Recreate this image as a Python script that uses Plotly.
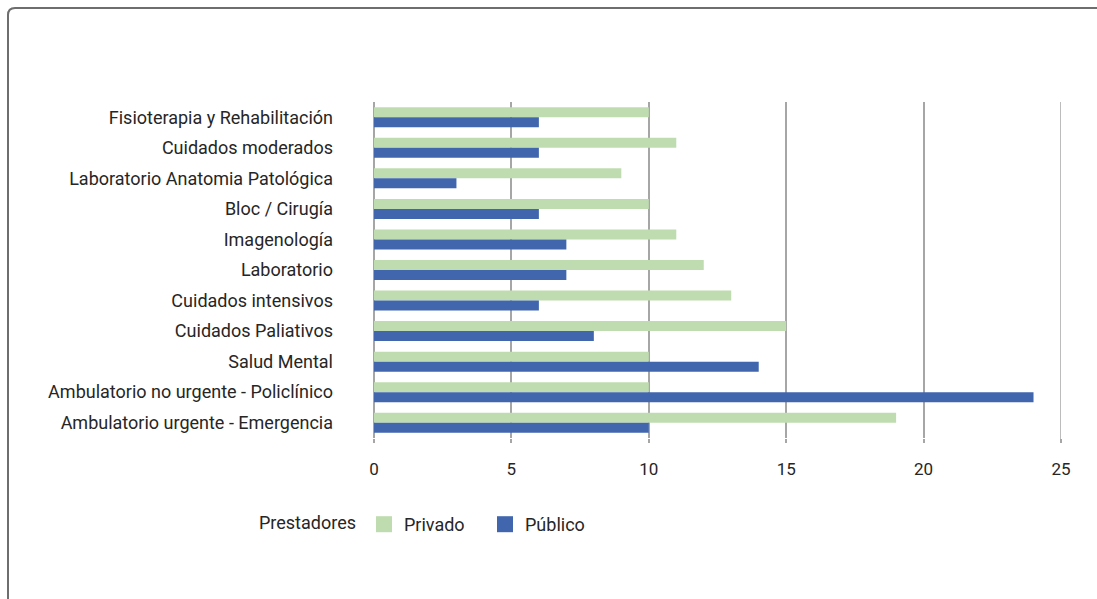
import plotly.graph_objects as go

categories = [
    "Fisioterapia y Rehabilitación",
    "Cuidados moderados",
    "Laboratorio Anatomia Patológica",
    "Bloc / Cirugía",
    "Imagenología",
    "Laboratorio",
    "Cuidados intensivos",
    "Cuidados Paliativos",
    "Salud Mental",
    "Ambulatorio no urgente - Policlínico",
    "Ambulatorio urgente - Emergencia",
]
privado = [10, 11, 9, 10, 11, 12, 13, 15, 10, 10, 19]
publico = [6, 6, 3, 6, 7, 7, 6, 8, 14, 24, 10]
x_ticks = [0, 5, 10, 15, 20, 25]

GREEN = "#bfdcb0"
BLUE = "#4166ae"
FONT = "Roboto"
TXT = "#262626"
GRID = "#a6a6a6"

W, H = 1097, 599
ML, MR, MT, MB = 374, 36, 102, 161
PW, PH = W - ML - MR, H - MT - MB


def px_x(p):
    return (p - ML) / PW


def px_y(p):
    return 1 - (p - MT) / PH


fig = go.Figure()
fig.add_trace(go.Bar(y=categories, x=privado, orientation="h", name="Privado",
                     marker=dict(color=GREEN, line=dict(width=0)), showlegend=False))
fig.add_trace(go.Bar(y=categories, x=publico, orientation="h", name="Público",
                     marker=dict(color=BLUE, line=dict(width=0)), showlegend=False))
# legend entries with larger swatches
fig.add_trace(go.Scatter(x=[None], y=[None], mode="markers", name="Privado",
                         marker=dict(symbol="square", size=16, color=GREEN, line=dict(width=0))))
fig.add_trace(go.Scatter(x=[None], y=[None], mode="markers", name="Público",
                         marker=dict(symbol="square", size=16, color=BLUE, line=dict(width=0))))

# gridline at the right edge of the axis (plotly drops the edge gridline)
fig.add_shape(type="line", xref="x", yref="paper", x0=x_ticks[-1], x1=x_ticks[-1],
              y0=-4 / PH, y1=1, line=dict(color=GRID, width=1.5), layer="below")

# rounded outer border
r = 7
x0, y0 = 8, 8
x1, y1 = W + 20, H + 20
path = (f"M {px_x(x0)},{px_y(y1)} L {px_x(x0)},{px_y(y0 + r)} "
        f"Q {px_x(x0)},{px_y(y0)} {px_x(x0 + r)},{px_y(y0)} "
        f"L {px_x(x1)},{px_y(y0)}")
fig.add_shape(type="path", path=path, xref="paper", yref="paper",
              line=dict(color="#6e6e6e", width=2))

fig.update_layout(
    width=W, height=H,
    margin=dict(l=ML, r=MR, t=MT, b=MB),
    paper_bgcolor="white", plot_bgcolor="white",
    barmode="group", bargap=0.345, bargroupgap=0,
    font=dict(family=FONT, size=18, color=TXT),
    showlegend=True,
    legend=dict(
        orientation="h",
        x=px_x(257), xanchor="left",
        y=px_y(506), yanchor="top",
        title=dict(text="Prestadores", font=dict(size=18, color=TXT)),
        font=dict(size=18, color=TXT),
        itemsizing="trace",
        traceorder="normal",
        entrywidth=76, entrywidthmode="pixels",
    ),
    xaxis=dict(
        range=[0, 25], tickvals=x_ticks, ticktext=[str(t) for t in x_ticks],
        showgrid=True, gridcolor=GRID, gridwidth=1.5,
        zeroline=True, zerolinecolor=GRID, zerolinewidth=1.5,
        showline=False,
        ticks="outside", ticklen=4, tickcolor=GRID, tickwidth=1.5,
        ticklabelstandoff=12,
        tickfont=dict(size=17, color=TXT),
        fixedrange=True,
    ),
    yaxis=dict(
        autorange="reversed",
        showgrid=False, showline=False, ticks="",
        ticklabelstandoff=40,
        tickfont=dict(size=18, color=TXT),
        fixedrange=True,
    ),
)

fig.write_html("out.html")
